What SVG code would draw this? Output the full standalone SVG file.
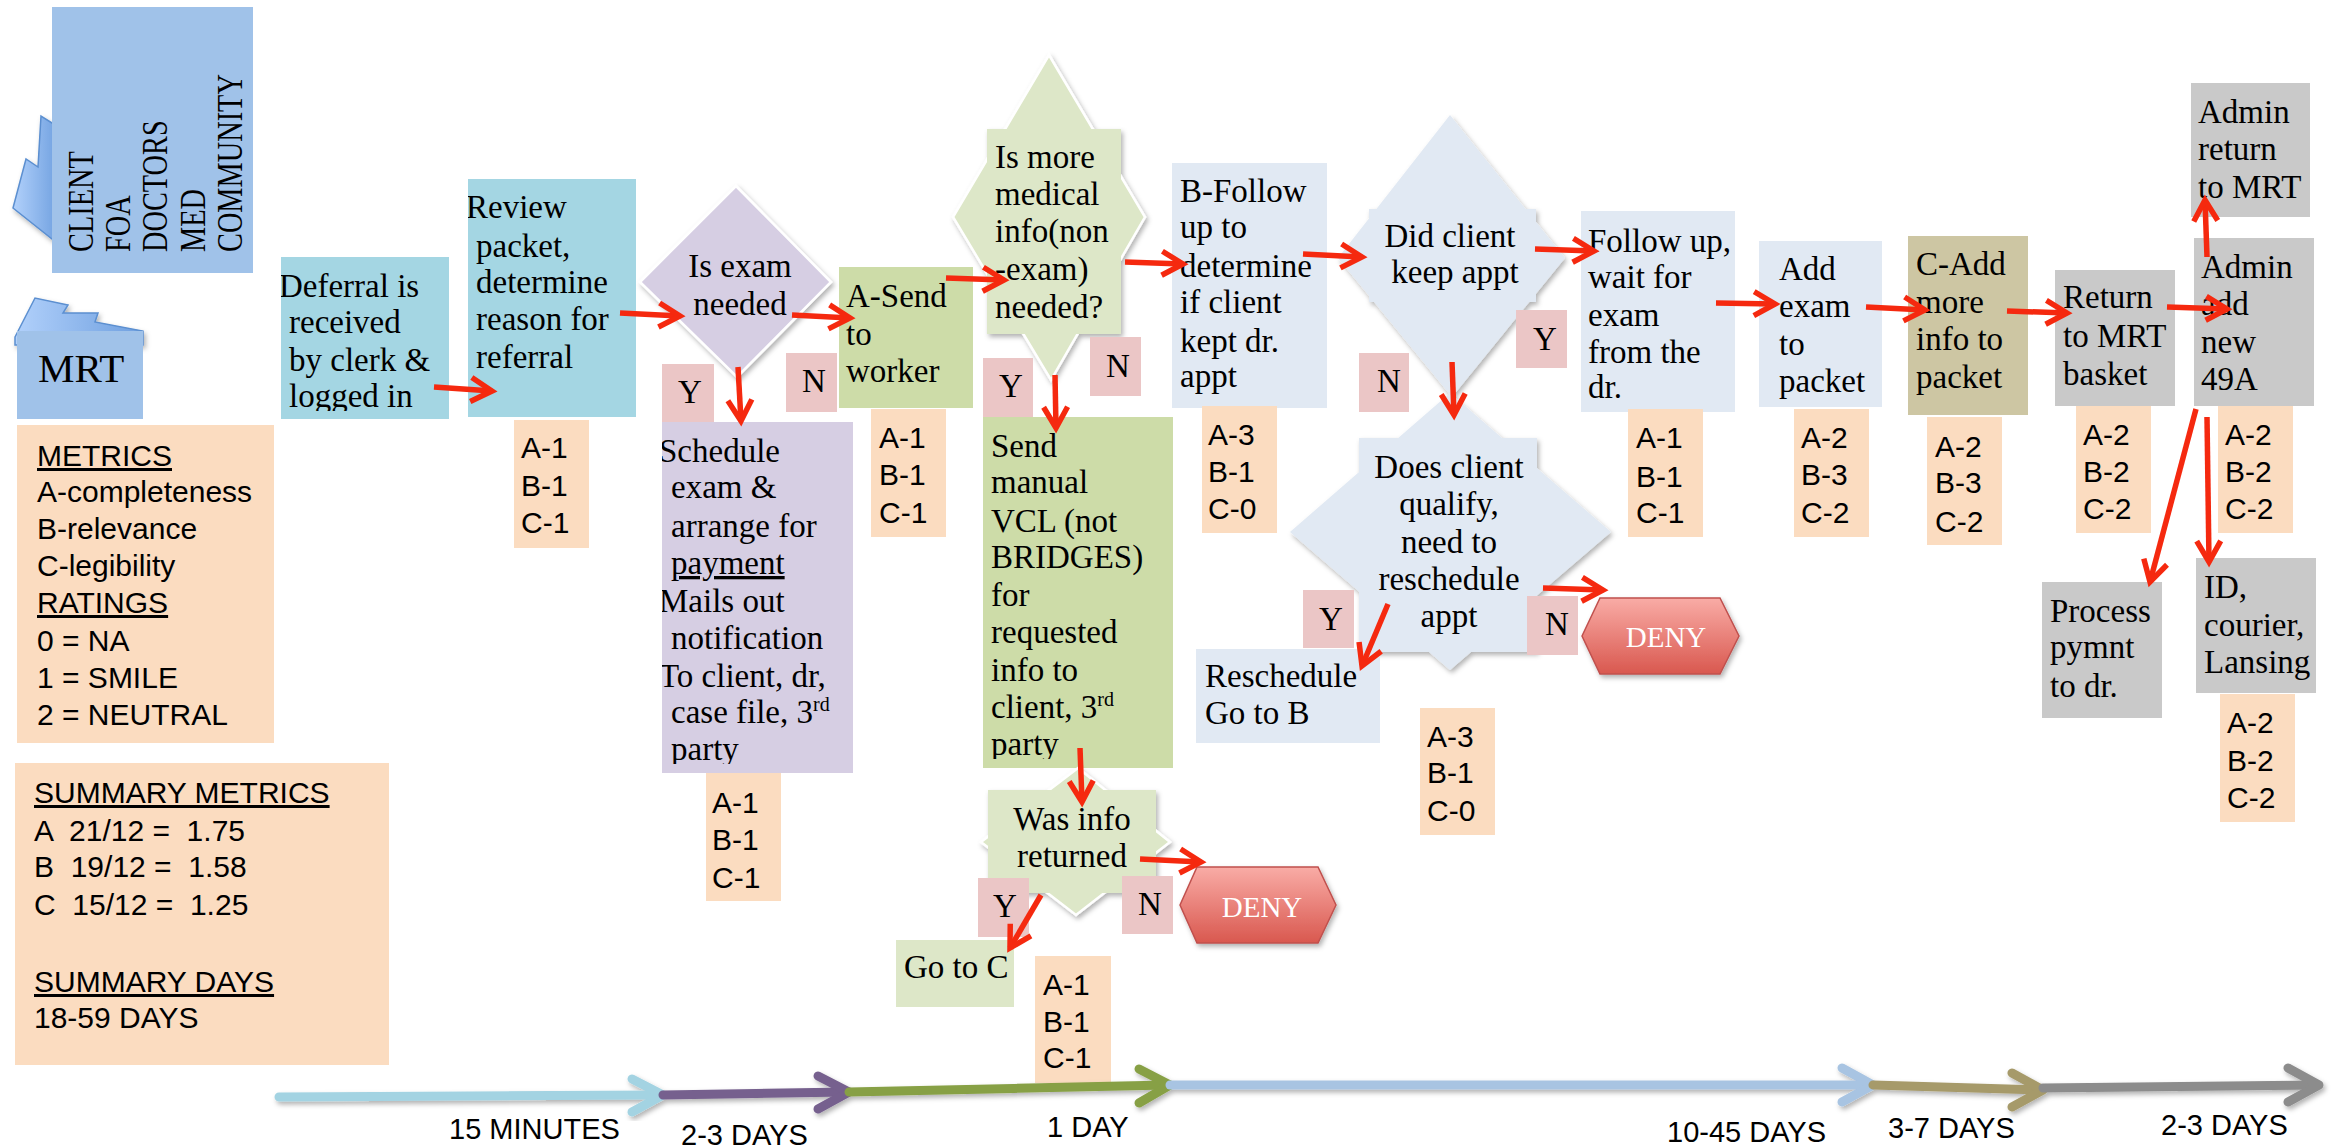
<svg xmlns="http://www.w3.org/2000/svg" width="2336" height="1148" viewBox="0 0 2336 1148">
<defs>
<style>
.t{font-family:"Liberation Serif","Times New Roman",serif;font-size:33px;fill:#000}
.tc{text-anchor:middle}
.s{font-family:"Liberation Sans",Arial,sans-serif;font-size:30px;fill:#000}
.ax{font-family:"Liberation Sans",Arial,sans-serif;font-size:29px;fill:#000}
.u{text-decoration:underline}
.rot{font-family:"Liberation Serif","Times New Roman",serif;font-size:35px;fill:#000}
.blue{fill:#a0c2e9}
.teal{fill:#a4d6e3}
.purple{fill:#d6cee3}
.green{fill:#cddca8}
.lgreen{fill:#dde7c8}
.lblue{fill:#e1e9f3}
.tan{fill:#cdc6a3}
.grey{fill:#c9c9c9}
.peach{fill:#fbdcc0}
.pink{fill:#ebc6c6}
.dia{filter:url(#shadow)}
.edge{stroke:#fff;stroke-width:2.5}
.tail{fill:url(#tailGrad);stroke:#5b8fd0;stroke-width:1.5;filter:url(#shadow)}
.conn line{stroke:#f5290f;stroke-width:5.5;marker-end:url(#ah)}
.deny polygon{fill:url(#denyGrad);stroke:#c0504d;stroke-width:1.5;filter:url(#shadow)}
.deny text{fill:#fff;font-size:29px}
.seg{fill:none;stroke-width:9;stroke-linecap:round;stroke-linejoin:round}
.c1{stroke:#a3d3e2}.c2{stroke:#76608e}.c3{stroke:#87a045}.c4{stroke:#a8c4e2}.c5{stroke:#a69a6a}.c6{stroke:#8c8c8c}
</style>
<filter id="shadow" x="-20%" y="-20%" width="140%" height="140%">
<feDropShadow dx="2" dy="3" stdDeviation="2.5" flood-color="#000" flood-opacity="0.3"/>
</filter>
<linearGradient id="tailGrad" x1="0" y1="0" x2="1" y2="0">
<stop offset="0" stop-color="#b2d1fb"/><stop offset="1" stop-color="#6e9fdf"/>
</linearGradient>
<linearGradient id="denyGrad" x1="0" y1="0" x2="0" y2="1">
<stop offset="0" stop-color="#f9aca6"/><stop offset="1" stop-color="#d9584f"/>
</linearGradient>
<marker id="ah" markerUnits="userSpaceOnUse" viewBox="-28 -16 36 32" markerWidth="36" markerHeight="32" refX="0" refY="0" orient="auto">
<path d="M-21,-12 L0,0 L-21,12" fill="none" stroke="#f5290f" stroke-width="5.5"/>
</marker>
<clipPath id="clipDeferral"><rect x="281" y="257" width="168" height="154"/></clipPath>
<clipPath id="clipReview"><rect x="468" y="179" width="168" height="238"/></clipPath>
<clipPath id="clipSchedule"><rect x="662" y="422" width="191" height="342"/></clipPath>
<clipPath id="clipVcl"><rect x="983" y="417" width="190" height="342"/></clipPath>
</defs>

<rect width="2336" height="1148" fill="#fff"/>

<!-- source callouts -->
<g id="client">
<polygon class="tail" points="52,123 41,116 38,167 26,159 13,208 52,239 60,239 60,123"/>
<rect class="blue" x="52" y="7" width="201" height="266"/>
<text class="rot" transform="translate(93,252) rotate(-90) scale(0.81,1)">CLIENT</text>
<text class="rot" transform="translate(130,252) rotate(-90) scale(0.81,1)">FOA</text>
<text class="rot" transform="translate(167,252) rotate(-90) scale(0.81,1)">DOCTORS</text>
<text class="rot" transform="translate(205,252) rotate(-90) scale(0.81,1)">MED</text>
<text class="rot" transform="translate(242,252) rotate(-90) scale(0.81,1)">COMMUNITY</text>
</g>
<g id="mrt">
<polygon class="tail" points="15,337 35,298 68,305 63,313 98,313 95,322 143,331 143,345 15,345"/>
<rect class="blue" x="17" y="331" width="126" height="88"/>
<text class="t" x="38" y="382" style="font-size:41px">MRT</text>
</g>

<!-- legend panels -->
<g id="metrics">
<rect class="peach" x="17" y="425" width="257" height="318"/>
<text class="s u" x="37" y="466">METRICS</text>
<text class="s" x="37" y="502">A-completeness</text>
<text class="s" x="37" y="539">B-relevance</text>
<text class="s" x="37" y="576">C-legibility</text>
<text class="s u" x="37" y="613">RATINGS</text>
<text class="s" x="37" y="651">0 = NA</text>
<text class="s" x="37" y="688">1 = SMILE</text>
<text class="s" x="37" y="725">2 = NEUTRAL</text>
</g>
<g id="summary">
<rect class="peach" x="15" y="763" width="374" height="302"/>
<text class="s u" x="34" y="803">SUMMARY METRICS</text>
<text class="s" x="34" y="841" xml:space="preserve">A  21/12 =  1.75</text>
<text class="s" x="34" y="877" xml:space="preserve">B  19/12 =  1.58</text>
<text class="s" x="34" y="915" xml:space="preserve">C  15/12 =  1.25</text>
<text class="s u" x="34" y="992">SUMMARY DAYS</text>
<text class="s" x="34" y="1028">18-59 DAYS</text>
</g>

<!-- process steps -->
<g id="deferral">
<rect class="teal" x="281" y="257" width="168" height="162"/>
<g clip-path="url(#clipDeferral)">
<text class="t" x="279" y="297">Deferral is</text>
<text class="t" x="289" y="333">received</text>
<text class="t" x="289" y="371">by clerk &amp;</text>
<text class="t" x="289" y="407">logged in</text>
</g>
</g>
<g id="review">
<rect class="teal" x="468" y="179" width="168" height="238"/>
<g clip-path="url(#clipReview)">
<text class="t" x="466" y="218">Review</text>
<text class="t" x="476" y="257">packet,</text>
<text class="t" x="476" y="293">determine</text>
<text class="t" x="476" y="330">reason for</text>
<text class="t" x="476" y="368">referral</text>
</g>
</g>
<g id="rating-review">
<rect class="peach" x="514" y="420" width="75" height="128"/>
<text class="s" x="521" y="458">A-1</text><text class="s" x="521" y="496">B-1</text><text class="s" x="521" y="533">C-1</text>
</g>

<g id="exam-needed">
<polygon class="purple edge dia" points="736,186 831,282 737,377 640,282"/>
<text class="t tc" x="740" y="277">Is exam</text>
<text class="t tc" x="740" y="315">needed</text>
</g>
<g id="exam-y"><rect class="pink" x="662" y="364" width="52" height="58"/><text class="t tc" x="690" y="403">Y</text></g>
<g id="exam-n"><rect class="pink" x="786" y="353" width="51" height="59"/><text class="t tc" x="814" y="392">N</text></g>

<g id="schedule">
<rect class="purple" x="662" y="422" width="191" height="351"/>
<g clip-path="url(#clipSchedule)">
<text class="t" x="659" y="462">Schedule</text>
<text class="t" x="671" y="498">exam &amp;</text>
<text class="t" x="671" y="537">arrange for</text>
<text class="t u" x="671" y="574">payment</text>
<text class="t" x="659" y="612">Mails out</text>
<text class="t" x="671" y="649">notification</text>
<text class="t" x="659" y="687">To client, dr,</text>
<text class="t" x="671" y="723">case file, 3<tspan dy="-12" style="font-size:20px">rd</tspan></text>
<text class="t" x="671" y="760">party</text>
</g>
</g>
<g id="rating-schedule">
<rect class="peach" x="706" y="773" width="75" height="128"/>
<text class="s" x="712" y="813">A-1</text><text class="s" x="712" y="850">B-1</text><text class="s" x="712" y="888">C-1</text>
</g>

<g id="send-worker">
<rect class="green" x="839" y="267" width="134" height="141"/>
<text class="t" x="846" y="307">A-Send</text>
<text class="t" x="846" y="345">to</text>
<text class="t" x="846" y="382">worker</text>
</g>
<g id="rating-send-worker">
<rect class="peach" x="871" y="409" width="75" height="128"/>
<text class="s" x="879" y="448">A-1</text><text class="s" x="879" y="485">B-1</text><text class="s" x="879" y="523">C-1</text>
</g>

<g id="more-info">
<g class="dia">
<polygon class="lgreen edge" points="1049,55 1145,217 1051,380 953,217"/>
<rect class="lgreen" x="987" y="129" width="134" height="205"/>
</g>
<text class="t" x="995" y="168">Is more</text>
<text class="t" x="995" y="205">medical</text>
<text class="t" x="995" y="242">info(non</text>
<text class="t" x="995" y="280">-exam)</text>
<text class="t" x="995" y="318">needed?</text>
</g>
<g id="more-info-y"><rect class="pink" x="983" y="358" width="50" height="59"/><text class="t tc" x="1011" y="397">Y</text></g>
<g id="more-info-n"><rect class="pink" x="1090" y="337" width="51" height="59"/><text class="t tc" x="1118" y="377">N</text></g>

<g id="send-vcl">
<rect class="green" x="983" y="417" width="190" height="351"/>
<g clip-path="url(#clipVcl)">
<text class="t" x="991" y="457">Send</text>
<text class="t" x="991" y="493">manual</text>
<text class="t" x="991" y="532">VCL (not</text>
<text class="t" x="991" y="568">BRIDGES)</text>
<text class="t" x="991" y="606">for</text>
<text class="t" x="991" y="643">requested</text>
<text class="t" x="991" y="681">info to</text>
<text class="t" x="991" y="718">client, 3<tspan dy="-12" style="font-size:20px">rd</tspan></text>
<text class="t" x="991" y="755">party</text>
</g>
</g>

<g id="info-returned">
<g class="dia">
<polygon class="lgreen edge" points="1078,768 1170,842 1076,915 981,842"/>
<rect class="lgreen" x="988" y="790" width="168" height="103"/>
</g>
<text class="t tc" x="1072" y="830">Was info</text>
<text class="t tc" x="1072" y="867">returned</text>
</g>
<g id="info-returned-y"><rect class="pink" x="978" y="878" width="51" height="59"/><text class="t tc" x="1005" y="917">Y</text></g>
<g id="info-returned-n"><rect class="pink" x="1122" y="876" width="51" height="58"/><text class="t tc" x="1150" y="915">N</text></g>
<g id="deny-1" class="deny">
<polygon points="1180,905 1197,867 1318,867 1336,905 1318,943 1197,943"/>
<text class="t tc" x="1262" y="917">DENY</text>
</g>
<g id="goto-c">
<rect class="lgreen" x="896" y="940" width="118" height="67"/>
<text class="t" x="904" y="978">Go to C</text>
</g>
<g id="rating-vcl">
<rect class="peach" x="1035" y="956" width="76" height="127"/>
<text class="s" x="1043" y="995">A-1</text><text class="s" x="1043" y="1032">B-1</text><text class="s" x="1043" y="1068">C-1</text>
</g>

<g id="b-follow">
<rect class="lblue" x="1172" y="163" width="155" height="245"/>
<text class="t" x="1180" y="202">B-Follow</text>
<text class="t" x="1180" y="238">up to</text>
<text class="t" x="1180" y="277">determine</text>
<text class="t" x="1180" y="313">if client</text>
<text class="t" x="1180" y="352">kept dr.</text>
<text class="t" x="1180" y="387">appt</text>
</g>
<g id="rating-b-follow">
<rect class="peach" x="1202" y="406" width="75" height="127"/>
<text class="s" x="1208" y="445">A-3</text><text class="s" x="1208" y="482">B-1</text><text class="s" x="1208" y="519">C-0</text>
</g>

<g id="kept-appt">
<g class="dia">
<polygon class="lblue" points="1450,115 1565,258 1452,397 1338,258"/>
<rect class="lblue" x="1369" y="209" width="167" height="93"/>
</g>
<text class="t tc" x="1450" y="247">Did client</text>
<text class="t tc" x="1455" y="283">keep appt</text>
</g>
<g id="kept-appt-n"><rect class="pink" x="1359" y="353" width="50" height="59"/><text class="t tc" x="1389" y="392">N</text></g>
<g id="kept-appt-y"><rect class="pink" x="1516" y="310" width="51" height="58"/><text class="t tc" x="1545" y="350">Y</text></g>

<g id="qualify">
<g class="dia">
<polygon class="lblue" points="1450,393 1611,532 1450,670 1290,532"/>
<rect class="lblue" x="1359" y="438" width="178" height="214"/>
</g>
<text class="t tc" x="1449" y="478">Does client</text>
<text class="t tc" x="1449" y="515">qualify,</text>
<text class="t tc" x="1449" y="553">need to</text>
<text class="t tc" x="1449" y="590">reschedule</text>
<text class="t tc" x="1449" y="627">appt</text>
</g>
<g id="qualify-y"><rect class="pink" x="1303" y="590" width="51" height="58"/><text class="t tc" x="1331" y="630">Y</text></g>
<g id="qualify-n"><rect class="pink" x="1527" y="596" width="51" height="59"/><text class="t tc" x="1557" y="635">N</text></g>
<g id="deny-2" class="deny">
<polygon points="1582,636 1600,598 1720,598 1739,636 1720,674 1600,674"/>
<text class="t tc" x="1666" y="647">DENY</text>
</g>
<g id="reschedule">
<rect class="lblue" x="1196" y="649" width="184" height="94"/>
<text class="t" x="1205" y="687">Reschedule</text>
<text class="t" x="1205" y="724">Go to B</text>
</g>
<g id="rating-qualify">
<rect class="peach" x="1420" y="708" width="75" height="127"/>
<text class="s" x="1427" y="747">A-3</text><text class="s" x="1427" y="783">B-1</text><text class="s" x="1427" y="821">C-0</text>
</g>

<g id="follow-up">
<rect class="lblue" x="1581" y="211" width="154" height="201"/>
<text class="t" x="1588" y="252">Follow up,</text>
<text class="t" x="1588" y="288">wait for</text>
<text class="t" x="1588" y="326">exam</text>
<text class="t" x="1588" y="363">from the</text>
<text class="t" x="1588" y="398">dr.</text>
</g>
<g id="rating-follow-up">
<rect class="peach" x="1628" y="409" width="75" height="128"/>
<text class="s" x="1636" y="448">A-1</text><text class="s" x="1636" y="487">B-1</text><text class="s" x="1636" y="523">C-1</text>
</g>

<g id="add-exam">
<rect class="lblue" x="1759" y="241" width="123" height="166"/>
<text class="t" x="1779" y="280">Add</text>
<text class="t" x="1779" y="317">exam</text>
<text class="t" x="1779" y="355">to</text>
<text class="t" x="1779" y="392">packet</text>
</g>
<g id="rating-add-exam">
<rect class="peach" x="1794" y="409" width="75" height="128"/>
<text class="s" x="1801" y="448">A-2</text><text class="s" x="1801" y="485">B-3</text><text class="s" x="1801" y="523">C-2</text>
</g>

<g id="c-add">
<rect class="tan" x="1908" y="236" width="120" height="179"/>
<text class="t" x="1916" y="275">C-Add</text>
<text class="t" x="1916" y="313">more</text>
<text class="t" x="1916" y="350">info to</text>
<text class="t" x="1916" y="388">packet</text>
</g>
<g id="rating-c-add">
<rect class="peach" x="1927" y="417" width="75" height="128"/>
<text class="s" x="1935" y="457">A-2</text><text class="s" x="1935" y="493">B-3</text><text class="s" x="1935" y="532">C-2</text>
</g>

<g id="return-basket">
<rect class="grey" x="2055" y="270" width="120" height="136"/>
<text class="t" x="2063" y="308">Return</text>
<text class="t" x="2063" y="347">to MRT</text>
<text class="t" x="2063" y="385">basket</text>
</g>
<g id="rating-return">
<rect class="peach" x="2076" y="406" width="75" height="127"/>
<text class="s" x="2083" y="445">A-2</text><text class="s" x="2083" y="482">B-2</text><text class="s" x="2083" y="519">C-2</text>
</g>

<g id="admin-add">
<rect class="grey" x="2194" y="238" width="120" height="168"/>
<text class="t" x="2201" y="278">Admin</text>
<text class="t" x="2201" y="315">add</text>
<text class="t" x="2201" y="353">new</text>
<text class="t" x="2201" y="390">49A</text>
</g>
<g id="rating-admin-add">
<rect class="peach" x="2218" y="406" width="75" height="127"/>
<text class="s" x="2225" y="445">A-2</text><text class="s" x="2225" y="482">B-2</text><text class="s" x="2225" y="519">C-2</text>
</g>
<g id="admin-return">
<rect class="grey" x="2191" y="83" width="119" height="134"/>
<text class="t" x="2198" y="123">Admin</text>
<text class="t" x="2198" y="160">return</text>
<text class="t" x="2198" y="198">to MRT</text>
</g>
<g id="process-payment">
<rect class="grey" x="2042" y="582" width="120" height="136"/>
<text class="t" x="2050" y="622">Process</text>
<text class="t" x="2050" y="658">pymnt</text>
<text class="t" x="2050" y="697">to dr.</text>
</g>
<g id="id-courier">
<rect class="grey" x="2196" y="558" width="120" height="135"/>
<text class="t" x="2204" y="598">ID,</text>
<text class="t" x="2204" y="636">courier,</text>
<text class="t" x="2204" y="673">Lansing</text>
</g>
<g id="rating-id">
<rect class="peach" x="2220" y="694" width="75" height="128"/>
<text class="s" x="2227" y="733">A-2</text><text class="s" x="2227" y="771">B-2</text><text class="s" x="2227" y="808">C-2</text>
</g>

<!-- flow connectors -->
<g id="connectors" class="conn">
<line x1="434" y1="387" x2="492" y2="391"/>
<line x1="620" y1="313" x2="680" y2="316"/>
<line x1="792" y1="315" x2="850" y2="318"/>
<line x1="738" y1="367" x2="741" y2="421"/>
<line x1="946" y1="278" x2="1004" y2="280"/>
<line x1="1125" y1="262" x2="1183" y2="264"/>
<line x1="1055" y1="375" x2="1056" y2="428"/>
<line x1="1080" y1="748" x2="1082" y2="802"/>
<line x1="1140" y1="859" x2="1201" y2="862"/>
<line x1="1041" y1="895" x2="1010" y2="948"/>
<line x1="1303" y1="254" x2="1362" y2="257"/>
<line x1="1535" y1="249" x2="1594" y2="251"/>
<line x1="1452" y1="362" x2="1454" y2="415"/>
<line x1="1388" y1="604" x2="1362" y2="666"/>
<line x1="1543" y1="588" x2="1603" y2="590"/>
<line x1="1716" y1="303" x2="1775" y2="304"/>
<line x1="1866" y1="307" x2="1925" y2="310"/>
<line x1="2007" y1="311" x2="2067" y2="313"/>
<line x1="2167" y1="307" x2="2227" y2="309"/>
<line x1="2207" y1="257" x2="2205" y2="200"/>
<line x1="2196" y1="409" x2="2150" y2="582"/>
<line x1="2207" y1="417" x2="2209" y2="562"/>
</g>

<!-- timeline -->
<g id="timeline" filter="url(#shadow)">
<g class="seg c1"><line x1="279" y1="1097" x2="661" y2="1095"/><polyline points="632,1079 663,1095 632,1112"/></g>
<g class="seg c2"><line x1="663" y1="1095" x2="847" y2="1092"/><polyline points="818,1076 849,1092 818,1109"/></g>
<g class="seg c3"><line x1="849" y1="1092" x2="1168" y2="1085"/><polyline points="1139,1069 1170,1085 1139,1103"/></g>
<g class="seg c4"><line x1="1170" y1="1085" x2="1871" y2="1085"/><polyline points="1842,1068 1873,1085 1842,1102"/></g>
<g class="seg c5"><line x1="1873" y1="1085" x2="2041" y2="1090"/><polyline points="2012,1073 2043,1090 2012,1107"/></g>
<g class="seg c6"><line x1="2043" y1="1088" x2="2317" y2="1085"/><polyline points="2288,1068 2319,1085 2288,1102"/></g>
</g>
<g id="timeline-labels">
<text class="ax" x="449" y="1139">15 MINUTES</text>
<text class="ax" x="681" y="1145">2-3 DAYS</text>
<text class="ax" x="1047" y="1137">1 DAY</text>
<text class="ax" x="1667" y="1142">10-45 DAYS</text>
<text class="ax" x="1888" y="1138">3-7 DAYS</text>
<text class="ax" x="2161" y="1135">2-3 DAYS</text>
</g>
</svg>
